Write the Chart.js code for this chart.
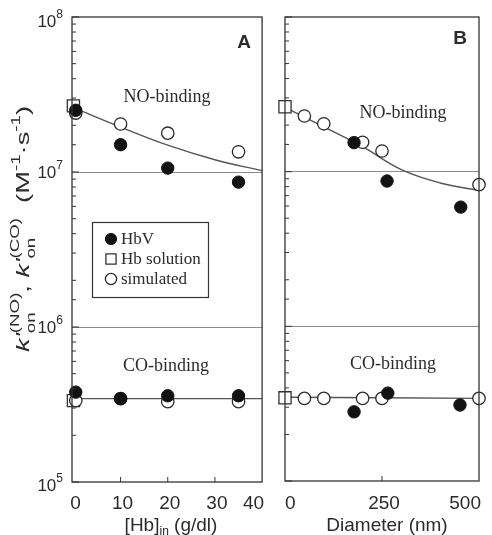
<!DOCTYPE html>
<html><head><meta charset="utf-8">
<script src="https://cdn.jsdelivr.net/npm/chart.js@4/dist/chart.umd.min.js"></script>
<style>
body{margin:0;background:#fff;width:492px;height:535px;overflow:hidden;position:relative}
canvas{position:absolute;top:0}
</style></head>
<body>
<canvas id="cA" width="272" height="535" style="left:0"></canvas>
<canvas id="cB" width="220" height="535" style="left:272px"></canvas>
<script>
// ---------- data: panel A ([Hb]in, g/dl) ----------
const hbvA_x  = [0.5, 10, 20, 35];
const hbvA_NO = [2.5e7, 1.5e7, 1.06e7, 8.6e6];
const hbvA_CO = [3.8e5, 3.45e5, 3.6e5, 3.6e5];
const simA_x  = [0.5, 10, 20, 35];
const simA_NO = [2.4e7, 2.04e7, 1.78e7, 1.35e7];
const simA_CO = [3.35e5, 3.45e5, 3.3e5, 3.3e5];
const solA_x  = [0];
const solA_NO = [2.67e7];
const solA_CO = [3.35e5];
const fitA_x  = [0, 10, 20, 30, 40];
const fitA_NO = [2.6e7, 1.95e7, 1.49e7, 1.2e7, 1.02e7];
const fitA_COx = [0, 40];
const fitA_CO  = [3.45e5, 3.45e5];
// ---------- data: panel B (Diameter, nm) ----------
const hbvB_x   = [178, 263, 453];
const hbvB_NO  = [1.54e7, 8.7e6, 5.9e6];
const hbvB_COx = [178, 265, 451];
const hbvB_CO  = [2.8e5, 3.7e5, 3.1e5];
const simB_x   = [50, 100, 200, 250, 500];
const simB_NO  = [2.29e7, 2.04e7, 1.55e7, 1.36e7, 8.25e6];
const simB_CO  = [3.42e5, 3.42e5, 3.42e5, 3.42e5, 3.42e5];
const solB_x   = [0];
const solB_NO  = [2.63e7];
const solB_CO  = [3.45e5];
const fitB_x   = [0, 100, 200, 300, 400, 500];
const fitB_NO  = [2.6e7, 1.95e7, 1.45e7, 1.03e7, 8.45e6, 7.55e6];
const fitB_COx = [0, 500];
const fitB_CO  = [3.48e5, 3.42e5];
// ---------- ticks / labels ----------
const xTicksA = [0, 10, 20, 30, 40];
const xTicksB = [0, 250, 500];
const yTickVals = [1e5, 1e6, 1e7, 1e8];
const yTickExp  = ['5', '6', '7', '8'];
const legendLabels = ['HbV', 'Hb solution', 'simulated'];

const SANS = '"Liberation Sans", Arial, sans-serif';
const SERIF = '"Liberation Serif", "Times New Roman", serif';
const INK = '#2b2b2b';

function pts(xs, ys){ return xs.map((x,i)=>({x:x, y:ys[i]})); }
const STY = {
  hbv: {pointStyle:'circle', pointRadius:6.2, backgroundColor:'#121212', borderColor:'#121212', borderWidth:1},
  sol: {pointStyle:'rect', pointRadius:8.6, backgroundColor:'#ffffff', borderColor:'#333', borderWidth:1.3},
  sim: {pointStyle:'circle', pointRadius:6.2, backgroundColor:'#ffffff', borderColor:'#2a2a2a', borderWidth:1.3}
};
function mk(data, kind, order){
  return Object.assign({data:data, showLine:false, clip:false, order:order}, STY[kind]);
}
function ln(data){
  return {data:data, showLine:true, pointRadius:0, borderColor:'#555', borderWidth:1.4,
          tension:0.4, fill:false, order:9, clip:false};
}
function isMajor(v){ const l = Math.log10(v); return Math.abs(l - Math.round(l)) < 1e-6; }

function baseOptions(xmin, xmax, pad){
  return {
    responsive:false, animation:false, events:[],
    layout:{padding:pad},
    plugins:{legend:{display:false}, tooltip:{enabled:false}},
    scales:{
      x:{type:'linear', min:xmin, max:xmax, ticks:{display:false}, grid:{display:false, drawTicks:false}, border:{display:false}},
      y:{type:'logarithmic', min:1e5, max:1e8, ticks:{display:false},
         grid:{drawTicks:false, lineWidth:1,
               color:c => { const v = c.tick && c.tick.value; return (v && isMajor(v) && v > 2e5 && v < 5e7) ? '#8c8c8c' : 'rgba(0,0,0,0)'; }},
         border:{display:false}}
    }
  };
}

function drawFrame(chart, xTicks){
  const {ctx, chartArea:a, scales:{x, y}} = chart;
  ctx.save();
  ctx.strokeStyle = '#333'; ctx.lineWidth = 1.3;
  ctx.strokeRect(a.left, a.top, a.right - a.left, a.bottom - a.top);
  ctx.lineWidth = 1;
  y.ticks.forEach(t => {
    const py = y.getPixelForValue(t.value);
    ctx.beginPath(); ctx.moveTo(a.left, py); ctx.lineTo(a.left + (isMajor(t.value) ? 7 : 4), py); ctx.stroke();
  });
  xTicks.forEach(v => {
    const px = x.getPixelForValue(v);
    if (px > a.left + 2 && px < a.right - 2){
      ctx.beginPath(); ctx.moveTo(px, a.bottom); ctx.lineTo(px, a.bottom - 5); ctx.stroke();
    }
  });
  // x tick labels
  ctx.fillStyle = INK; ctx.font = '19px ' + SANS; ctx.textBaseline = 'alphabetic';
  xTicks.forEach((v, i) => {
    const px = x.getPixelForValue(v);
    if (i === xTicks.length - 1){ ctx.textAlign = 'right'; ctx.fillText(String(v), px + 2, 509); }
    else if (i === 0 && v === 0 && chart.canvas.id === 'cB'){ ctx.textAlign = 'left'; ctx.fillText(String(v), px, 509); }
    else { ctx.textAlign = 'center'; ctx.fillText(String(v), px + 2, 509); }
  });
  ctx.restore();
}

function text(ctx, s, x, y, font, align){
  ctx.font = font; ctx.textAlign = align || 'center'; ctx.fillText(s, x, y);
}

const plugA = {
  id:'decoA',
  afterDraw(chart){
    const {ctx, chartArea:a, scales:{x, y}} = chart;
    drawFrame(chart, xTicksA);
    ctx.save();
    ctx.fillStyle = INK; ctx.textBaseline = 'middle';
    // y tick labels
    yTickVals.forEach((v, i) => {
      const py = y.getPixelForValue(v) + (v === 1e8 ? 5 : (v === 1e5 ? 4 : 1));
      ctx.font = '12px ' + SANS; const we = ctx.measureText(yTickExp[i]).width;
      ctx.textAlign = 'left'; ctx.fillText(yTickExp[i], 63 - we, py - 7);
      ctx.font = '17px ' + SANS; ctx.textAlign = 'right'; ctx.fillText('10', 63 - we, py);
    });
    // panel letter + annotations
    ctx.textBaseline = 'middle';
    text(ctx, 'A', 244, 43, 'bold 19px ' + SANS);
    text(ctx, 'NO-binding', 167, 97, '18px ' + SERIF);
    text(ctx, 'CO-binding', 166, 366, '18px ' + SERIF);
    // legend
    ctx.strokeStyle = '#333'; ctx.lineWidth = 1.2;
    ctx.strokeRect(92.5, 222.5, 116, 75);
    const kinds = ['hbv', 'sol', 'sim'];
    const ly = [239, 259, 279];
    kinds.forEach((k, i) => {
      const s = STY[k];
      ctx.fillStyle = s.backgroundColor; ctx.strokeStyle = s.borderColor; ctx.lineWidth = s.borderWidth;
      const r = k === 'sol' ? 7.2 : 5.6;
      Chart.helpers.drawPoint(ctx, {pointStyle:s.pointStyle, radius:r, rotation:0, borderWidth:s.borderWidth}, 111, ly[i]);
      ctx.fillStyle = INK;
      text(ctx, legendLabels[i], 121, ly[i] + 1, '17px ' + SERIF, 'left');
    });
    // x title
    ctx.textBaseline = 'alphabetic'; ctx.fillStyle = INK;
    ctx.font = '19px ' + SANS;
    const w1 = ctx.measureText('[Hb]').width;
    ctx.font = '12px ' + SANS; const w2 = ctx.measureText('in').width;
    ctx.font = '19px ' + SANS; const w3 = ctx.measureText(' (g/dl)').width;
    let sx = 171 - (w1 + w2 + w3) / 2;
    ctx.textAlign = 'left';
    ctx.fillText('[Hb]', sx, 531);
    ctx.font = '12px ' + SANS; ctx.fillText('in', sx + w1, 535);
    ctx.font = '19px ' + SANS; ctx.fillText(' (g/dl)', sx + w1 + w2, 531);
    // y title (rotated, rich text)
    const I = 'italic 19px ' + SANS, N = '19px ' + SANS, S = '13px ' + SANS;
    const toks = [
      {t:"k'", f:I, dy:0}, {t:'on', f:S, dy:6, keep:true}, {t:'(NO)', f:S, dy:-10},
      {t:', ', f:N, dy:0},
      {t:"k'", f:I, dy:0}, {t:'on', f:S, dy:6, keep:true}, {t:'(CO)', f:S, dy:-10},
      {t:'  (M', f:N, dy:0}, {t:'-1', f:S, dy:-9}, {t:'·s', f:N, dy:0}, {t:'-1', f:S, dy:-9}, {t:')', f:N, dy:0}
    ];
    let W = 0, keepW = null;
    toks.forEach(tk => { ctx.font = tk.f; const w = ctx.measureText(tk.t).width;
      if (tk.keep){ keepW = w; } else if (keepW !== null){ W += Math.max(keepW, w); keepW = null; } else { W += w; } });
    const L = 246;
    ctx.save();
    ctx.translate(29, 229);
    ctx.rotate(-Math.PI / 2);
    ctx.scale(L / W, 1);
    let cx = -W / 2; keepW = null;
    ctx.textAlign = 'left'; ctx.textBaseline = 'alphabetic';
    toks.forEach(tk => {
      ctx.font = tk.f; const w = ctx.measureText(tk.t).width;
      ctx.fillText(tk.t, cx, tk.dy);
      if (tk.keep){ keepW = w; }
      else if (keepW !== null){ cx += Math.max(keepW, w); keepW = null; }
      else { cx += w; }
    });
    ctx.restore();
    ctx.restore();
  }
};

const plugB = {
  id:'decoB',
  afterDraw(chart){
    const {ctx} = chart;
    drawFrame(chart, xTicksB);
    ctx.save();
    ctx.fillStyle = INK; ctx.textBaseline = 'middle';
    text(ctx, 'B', 460 - 272, 39, 'bold 19px ' + SANS);
    text(ctx, 'NO-binding', 403 - 272, 113, '18px ' + SERIF);
    text(ctx, 'CO-binding', 393 - 272, 364, '18px ' + SERIF);
    ctx.textBaseline = 'alphabetic';
    text(ctx, 'Diameter (nm)', 387 - 272, 531, '19px ' + SANS);
    ctx.restore();
  }
};

new Chart(document.getElementById('cA'), {
  type:'scatter',
  data:{datasets:[
    ln(pts(fitA_x, fitA_NO)), ln(pts(fitA_COx, fitA_CO)),
    mk(pts(simA_x, simA_NO), 'sim', 3), mk(pts(simA_x, simA_CO), 'sim', 3),
    mk(pts(solA_x, solA_NO), 'sol', 4), mk(pts(solA_x, solA_CO), 'sol', 4),
    mk(pts(hbvA_x, hbvA_NO), 'hbv', 1), mk(pts(hbvA_x, hbvA_CO), 'hbv', 1)
  ]},
  options: baseOptions(-0.3, 40, {left:72, right:8, top:17, bottom:53}),
  plugins:[plugA]
});

new Chart(document.getElementById('cB'), {
  type:'scatter',
  data:{datasets:[
    ln(pts(fitB_x, fitB_NO)), ln(pts(fitB_COx, fitB_CO)),
    mk(pts(simB_x, simB_NO), 'sim', 2), mk(pts(simB_x, simB_CO), 'sim', 2),
    mk(pts(solB_x, solB_NO), 'sol', 4), mk(pts(solB_x, solB_CO), 'sol', 4),
    mk(pts(hbvB_x, hbvB_NO), 'hbv', 1), mk(pts(hbvB_COx, hbvB_CO), 'hbv', 1)
  ]},
  options: baseOptions(0, 500, {left:13, right:13, top:17, bottom:54}),
  plugins:[plugB]
});
</script>
</body></html>
